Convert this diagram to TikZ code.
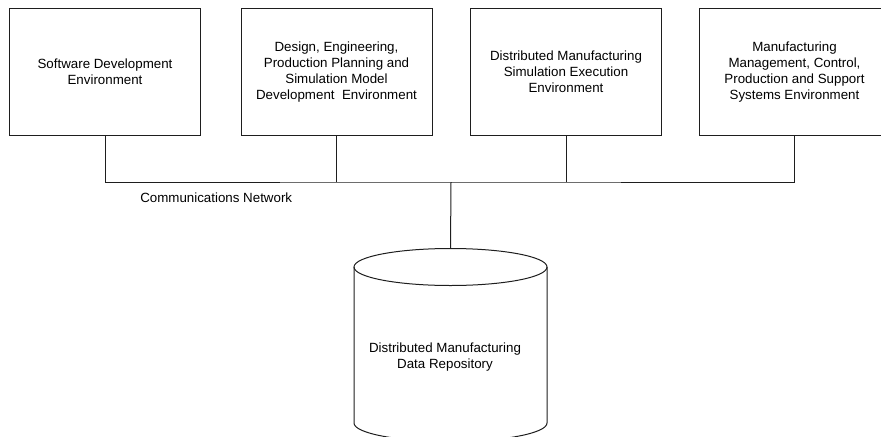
\documentclass[tikz,border=0pt]{standalone}
\usepackage{fontspec}
\setmainfont{Liberation Sans}
\usetikzlibrary{positioning,calc}
\definecolor{ink}{RGB}{30,30,30}
\tikzset{
  envbox/.style={rectangle,draw=ink,line width=0.75pt,minimum width=143.25pt,
    minimum height=95.25pt,inner sep=0pt,align=center,font=\fontsize{10}{12}\selectfont},
  bus/.style={draw=ink,line width=0.75pt},
  capr/.style={x radius=96.5,y radius=18.5},
  lbl/.style={font=\fontsize{10}{12}\selectfont,inner sep=0pt,align=center},
}

\begin{document}
\begin{tikzpicture}[x=0.75pt,y=-0.75pt]
\useasboundingbox (0,0) rectangle (881,436);
% the four environments along the top
\node[envbox] (sde)  at (105,71.7)  {Software Development\\Environment};
\node[envbox] (deng) at (336.5,71.7) {Design, Engineering,\\Production Planning and\\Simulation Model\\Development\ \ Environment};
\node[envbox] (dmse) at (566,71.7)  {Distributed Manufacturing\\Simulation Execution\\Environment};
\node[envbox] (mmcp) at (794.5,71.7) {Manufacturing\\Management, Control,\\Production and Support\\Systems Environment};
% repository drum
\coordinate (dbcap) at (450.5,267);
\coordinate (dbtop) at (450.5,248.5);
\draw[bus] (dbcap) ellipse [capr];
\draw[bus] ($(dbcap)+(-96.5,0)$) -- ++(0,156) arc[start angle=180,end angle=0,capr] -- ++(0,-156);
\node[lbl] (dmdr) at (445,357) {Distributed Manufacturing\\Data Repository};
% network
\coordinate (hub) at (451,182);
\node[lbl,anchor=west] (net) at (140,198) {Communications Network};
\draw[bus] (sde.south) |- (hub) -| (mmcp.south);
\draw[bus] (deng.south) -- (deng.south |- hub);
\draw[bus] (dmse.south) -- (dmse.south |- hub);
\draw[bus] (hub) -- (dbtop);
\end{tikzpicture}
\end{document}
